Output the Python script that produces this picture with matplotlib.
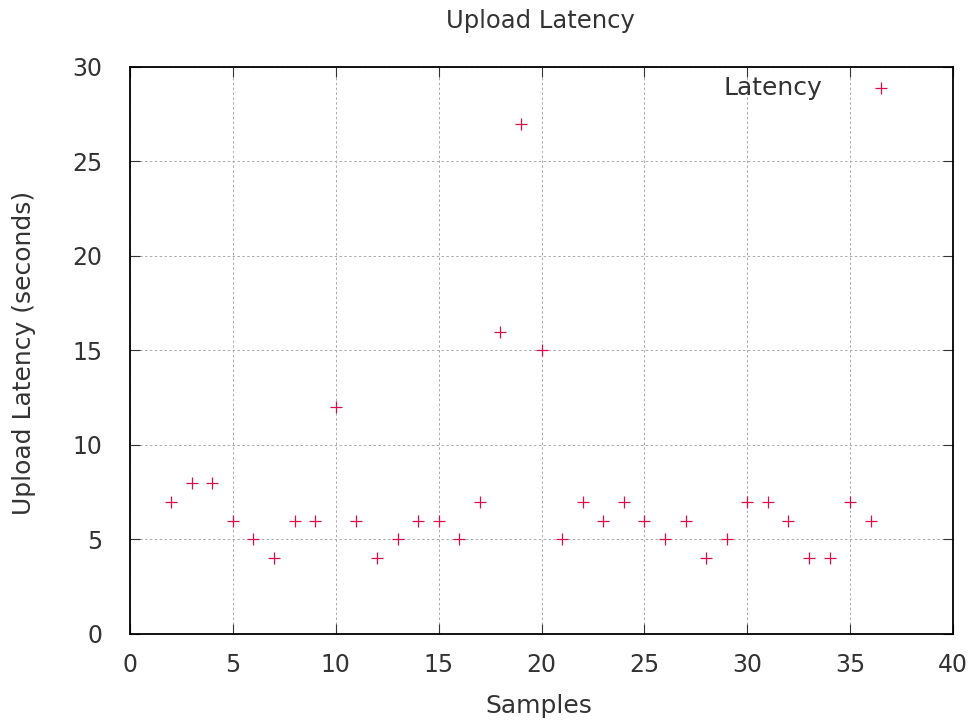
import numpy as np
import matplotlib.pyplot as plt

samples = list(range(2, 37))
latency = [7, 8, 8, 6, 5, 4, 6, 6, 12, 6, 4, 5, 6, 6, 5, 7, 16, 27, 15,
           5, 7, 6, 7, 6, 5, 6, 4, 5, 7, 7, 6, 4, 4, 7, 6]

txt = '#333333'
red = '#d8104a'

fig = plt.figure(figsize=(9.74, 7.27), dpi=100)
ax = fig.add_axes([0.1335, 0.128, 0.845, 0.78])

ax.plot(samples, latency, linestyle='none', marker='+', markersize=8,
        markeredgewidth=0.9, color=red)

ax.set_xlim(0, 40)
ax.set_ylim(0, 30)
ax.set_xticks(np.arange(0, 41, 5))
ax.set_yticks(np.arange(0, 31, 5))
ax.grid(True, linestyle=(0, (2.5, 2.5)), color='#aaaaaa', linewidth=0.7)
ax.tick_params(direction='in', top=True, right=True, length=7,
               labelsize=17, colors=txt)
ax.tick_params(axis='y', pad=20)
ax.tick_params(axis='x', pad=14)
for s in ax.spines.values():
    s.set_linewidth(1.3)

# title and axis labels placed like gnuplot does
fig.text(0.555, 0.971, 'Upload Latency', fontsize=17.5, color=txt,
         ha='center', va='center')
fig.text(0.553, 0.029, 'Samples', fontsize=18, color=txt,
         ha='center', va='center')
fig.text(0.025, 0.515, 'Upload Latency (seconds)', fontsize=18, color=txt,
         ha='center', va='center', rotation=90)

# gnuplot-style key
ax.text(0.841, 0.962, 'Latency', transform=ax.transAxes, fontsize=18,
        ha='right', va='center', color=txt)
ax.plot([0.913], [0.962], transform=ax.transAxes, marker='+', markersize=8,
        markeredgewidth=0.9, color=red, clip_on=False)

fig.savefig('out.png', dpi=100)
